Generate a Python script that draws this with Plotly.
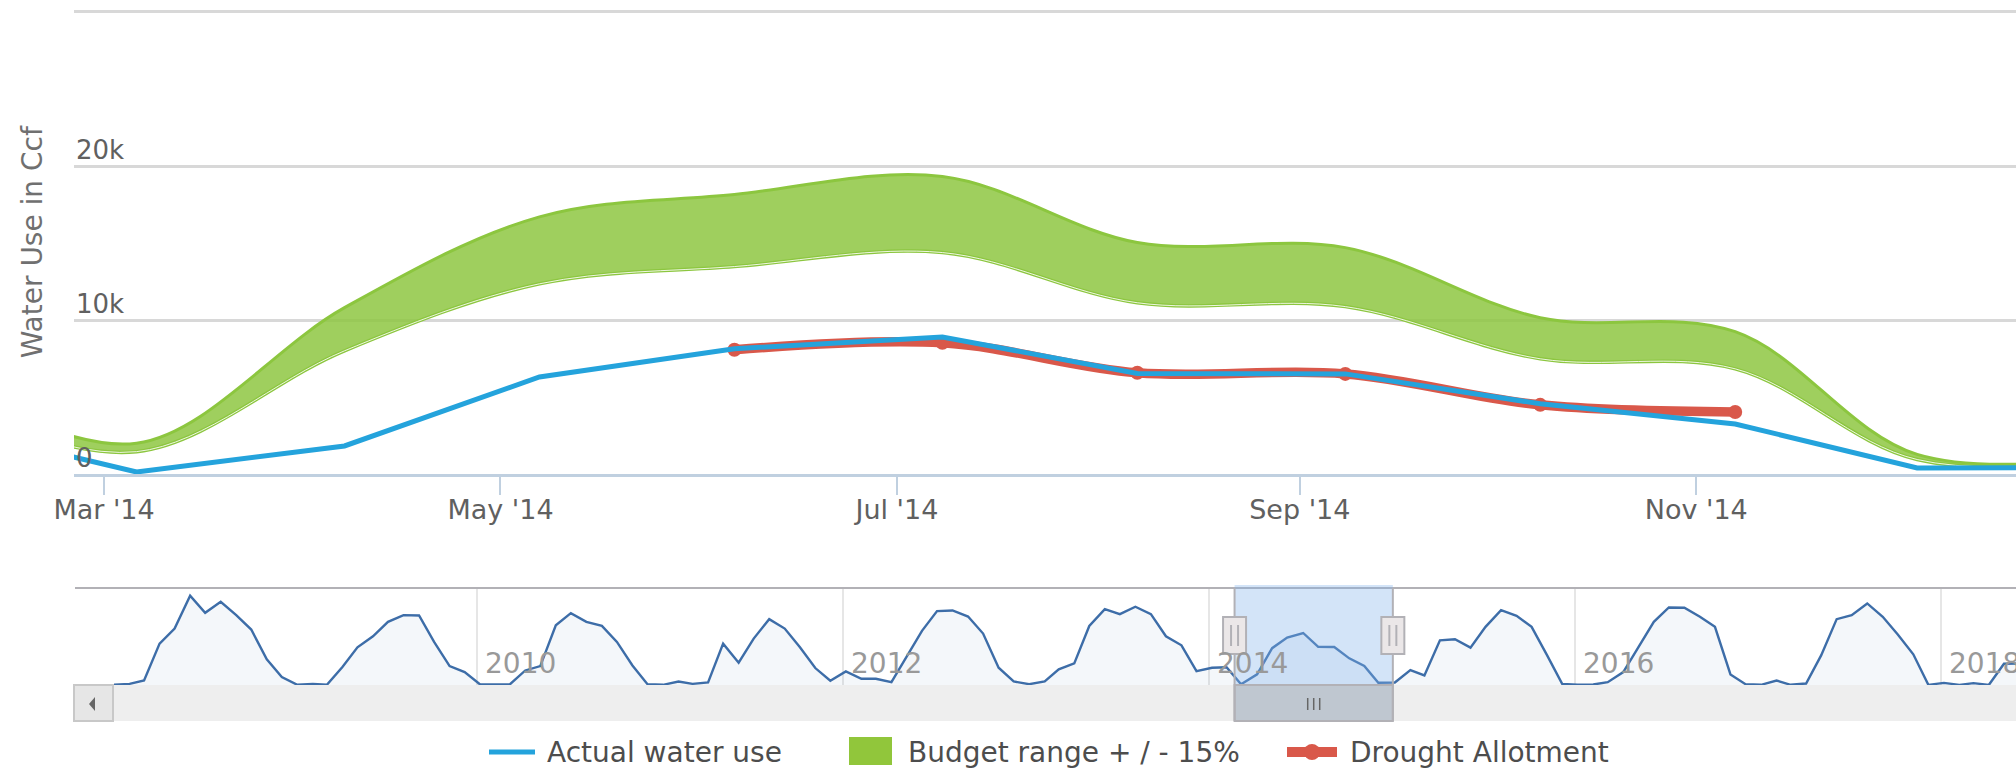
import pandas as pd
import plotly.graph_objects as go

W, H = 2016, 777
ML = 74  # left margin in px
FONT = "DejaVu Sans"

# ---------------- data (Ccf) ----------------
# Monthly meter reads, Jan 2008 .. Jun 2018
USE_2008 = [30, 200, 770, 7080, 9660, 15280, 12360, 14250, 11950, 9490, 4390, 1350]
USE_2009 = [30, 200, 30, 3070, 6450, 8340, 10810, 11950, 11900, 7370, 3240, 2210]
USE_2010 = [86, 86, 86, 2490, 3240, 10230, 12300, 10810, 10120, 7370, 3350, 143]
USE_2011 = [30, 600, 200, 430, 7080, 3810, 7940, 11270, 9660, 6510, 2900, 720]
USE_2012 = [2320, 1060, 1060, 490, 4790, 9260, 12640, 12760, 11720, 8800, 2950, 600]
USE_2013 = [143, 600, 2670, 3700, 10100, 12990, 12130, 13390, 12130, 8340, 6790, 2380]
USE_2014 = [2950, 3040, 130, 1820, 6300, 8130, 8900, 6530, 6500, 4560, 3250, 390]
USE_2015 = [420, 2550, 1630, 7650, 7830, 6390, 9950, 12810, 11840, 9950, 5070, 200]
USE_2016 = [30, 86, 490, 2210, 6450, 10810, 13270, 13210, 11670, 9950, 1810, 143]
USE_2017 = [30, 774, 30, 258, 5070, 11270, 11950, 13960, 11670, 8630, 5250, 30]
USE_2018 = [370, 30, 315, 30, 3640, 3700]
USE_BY_YEAR = {2008: USE_2008, 2009: USE_2009, 2010: USE_2010, 2011: USE_2011,
               2012: USE_2012, 2013: USE_2013, 2014: USE_2014, 2015: USE_2015,
               2016: USE_2016, 2017: USE_2017, 2018: USE_2018}
READ_DAY_2014 = [7, 5, 6, 7, 7, 6, 8, 7, 8, 8, 7, 5]
READ_DAY_OTHER = 7

BUDGET_DATES = ['2014-02-05', '2014-03-06', '2014-04-07', '2014-05-07', '2014-06-06',
                '2014-07-08', '2014-08-07', '2014-09-08', '2014-10-08', '2014-11-07',
                '2014-12-05', '2015-01-07']
BUDGET_HIGH = [6000, 2000, 10800, 16700, 18150, 19320, 15030, 14700, 10150, 9240, 1270, 1300]
BUDGET_LOW = [4450, 1450, 8000, 12350, 13470, 14380, 11120, 10870, 7480, 6830, 940, 960]

DROUGHT_DATES = ['2014-06-06', '2014-07-08', '2014-08-07', '2014-09-08', '2014-10-08', '2014-11-07']
DROUGHT_ALLOT = [8070, 8520, 6570, 6500, 4490, 4030]

NAME_ACTUAL = 'Actual water use'
NAME_BUDGET = 'Budget range + / - 15%'
NAME_DROUGHT = 'Drought Allotment'

MAIN_RANGE = ['2014-02-24 09:00', '2014-12-20 05:00']
MAIN_TICKS = ['2014-03-01', '2014-05-01', '2014-07-01', '2014-09-01', '2014-11-01']
NAV_RANGE = ['2008-01-07', '2018-05-31']
NAV_SELECT = ['2014-02-21', '2015-01-03']
NAV_YEARS = [2010, 2012, 2014, 2016, 2018]
Y_TICKS = [0, 10000, 20000, 30000]
Y_TICKTEXT = ['0', '10k', '20k', '']

use_dates, use_vals = [], []
for yr, vals in USE_BY_YEAR.items():
    for i, v in enumerate(vals):
        day = READ_DAY_2014[i] if yr == 2014 else READ_DAY_OTHER
        use_dates.append(f"{yr}-{i + 1:02d}-{day:02d}")
        use_vals.append(v)


def px_x(px):
    return (px - ML) / (W - ML)


def px_y(py):
    return 1 - py / H


BLUE = '#24a3dc'
RED = '#d9584a'
GREEN_LINE = '#8cc63f'
fig = go.Figure()
fig.add_trace(go.Scatter(x=BUDGET_DATES, y=BUDGET_LOW, mode='lines',
                         line=dict(color=GREEN_LINE, width=3.5, shape='spline', smoothing=1),
                         showlegend=False, hoverinfo='skip'))
fig.add_trace(go.Scatter(x=BUDGET_DATES, y=BUDGET_HIGH, mode='lines', fill='tonexty',
                         fillcolor='rgba(141,198,63,0.84)',
                         line=dict(color=GREEN_LINE, width=3, shape='spline', smoothing=1),
                         name=NAME_BUDGET, showlegend=False))
fig.add_trace(go.Scatter(x=BUDGET_DATES, y=BUDGET_LOW, mode='lines',
                         line=dict(color='rgba(255,255,255,0.85)', width=1, shape='spline', smoothing=1),
                         showlegend=False, hoverinfo='skip'))
fig.add_trace(go.Scatter(x=DROUGHT_DATES, y=DROUGHT_ALLOT, mode='lines+markers',
                         line=dict(color=RED, width=9.5, shape='spline', smoothing=1),
                         marker=dict(size=14, color=RED),
                         name=NAME_DROUGHT, showlegend=False))
fig.add_trace(go.Scatter(x=use_dates, y=use_vals, mode='lines',
                         line=dict(color=BLUE, width=5),
                         name=NAME_ACTUAL, showlegend=False))
# navigator series
fig.add_trace(go.Scatter(x=use_dates, y=use_vals, xaxis='x2', yaxis='y2', mode='lines',
                         fill='tozeroy', fillcolor='rgba(69,114,167,0.06)',
                         line=dict(color='#3d6da8', width=2.4),
                         showlegend=False, hoverinfo='skip'))

OUTLINE = '#b2b1b6'
shapes = []
# navigator top outline
shapes.append(dict(type='line', xref='paper', yref='paper', x0=px_x(75), x1=1,
                   y0=px_y(588), y1=px_y(588), line=dict(color=OUTLINE, width=2)))
# scrollbar track
shapes.append(dict(type='rect', xref='paper', yref='paper', x0=px_x(75), x1=1,
                   y0=px_y(721), y1=px_y(685), fillcolor='#eeeeee', line=dict(width=0)))
# left scroll button
shapes.append(dict(type='rect', xref='paper', yref='paper', x0=px_x(74), x1=px_x(113),
                   y0=px_y(721), y1=px_y(685), fillcolor='#e6e6e6',
                   line=dict(color='#c8c8c8', width=2)))
shapes.append(dict(type='path', xref='paper', yref='paper',
                   path=f"M {px_x(89)},{px_y(704)} L {px_x(95)},{px_y(697)} L {px_x(95)},{px_y(711)} Z",
                   fillcolor='#666666', line=dict(width=0)))
# selection mask
shapes.append(dict(type='rect', xref='x2', yref='paper', x0=NAV_SELECT[0], x1=NAV_SELECT[1],
                   y0=px_y(685), y1=px_y(585), fillcolor='rgba(128,179,236,0.35)',
                   line=dict(width=0), layer='above'))
# scrollbar thumb
shapes.append(dict(type='rect', xref='x2', yref='paper', x0=NAV_SELECT[0], x1=NAV_SELECT[1],
                   y0=px_y(721), y1=px_y(685), fillcolor='#bfc7d0',
                   line=dict(color=OUTLINE, width=2)))
sel_mid = (pd.Timestamp(NAV_SELECT[0]) + (pd.Timestamp(NAV_SELECT[1]) - pd.Timestamp(NAV_SELECT[0])) / 2)
for off in (-6, 0, 6):
    shapes.append(dict(type='line', xref='x2', yref='paper', xsizemode='pixel',
                       xanchor=sel_mid.strftime('%Y-%m-%d %H:%M'), x0=off, x1=off,
                       y0=px_y(710), y1=px_y(698), line=dict(color='#666666', width=1.5)))
# edges + handles
for edge in NAV_SELECT:
    shapes.append(dict(type='line', xref='x2', yref='paper', x0=edge, x1=edge,
                       y0=px_y(721), y1=px_y(588), line=dict(color=OUTLINE, width=2)))
    shapes.append(dict(type='rect', xref='x2', yref='paper', xsizemode='pixel', xanchor=edge,
                       x0=-11.5, x1=11.5, y0=px_y(654), y1=px_y(617),
                       fillcolor='#ebe7e8', line=dict(color=OUTLINE, width=2)))
    for off in (-3.5, 3.5):
        shapes.append(dict(type='line', xref='x2', yref='paper', xsizemode='pixel', xanchor=edge,
                           x0=off, x1=off, y0=px_y(646), y1=px_y(625),
                           line=dict(color=OUTLINE, width=2)))

# ---- legend (drawn) ----
LEG_Y = 752
shapes.append(dict(type='line', xref='paper', yref='paper', x0=px_x(489), x1=px_x(535),
                   y0=px_y(LEG_Y), y1=px_y(LEG_Y), line=dict(color=BLUE, width=5)))
shapes.append(dict(type='rect', xref='paper', yref='paper', x0=px_x(849), x1=px_x(892),
                   y0=px_y(765), y1=px_y(737), fillcolor='#91c63b', line=dict(width=0)))
shapes.append(dict(type='line', xref='paper', yref='paper', x0=px_x(1287), x1=px_x(1337),
                   y0=px_y(LEG_Y), y1=px_y(LEG_Y), line=dict(color=RED, width=10)))
shapes.append(dict(type='circle', xref='paper', yref='paper', x0=px_x(1304), x1=px_x(1320),
                   y0=px_y(LEG_Y + 8), y1=px_y(LEG_Y - 8), fillcolor=RED, line=dict(width=0)))

annotations = []
for name, left in ((NAME_ACTUAL, 545), (NAME_BUDGET, 906), (NAME_DROUGHT, 1348)):
    annotations.append(dict(x=px_x(left), xref='paper', y=px_y(LEG_Y), yref='paper',
                            text=name, showarrow=False, xanchor='left', yanchor='middle',
                            font=dict(family=FONT, size=28, color='#4d4d4d')))
# navigator year labels
for yr in NAV_YEARS:
    annotations.append(dict(x=f"{yr}-01-01", xref='x2', y=px_y(685), yref='paper',
                            text=str(yr), showarrow=False, xanchor='left', yanchor='bottom',
                            xshift=6, yshift=3, font=dict(family=FONT, size=28, color='#999999')))
# y-axis labels (inside, above grid lines)
for val, txt in zip(Y_TICKS, Y_TICKTEXT):
    if txt:
        annotations.append(dict(x=0, xref='paper', y=val, yref='y', text=txt,
                                showarrow=False, xanchor='left', yanchor='bottom',
                                xshift=0, yshift=-1,
                                font=dict(family=FONT, size=26, color='#606060')))

fig.update_layout(
    width=W, height=H,
    margin=dict(l=ML, r=0, t=0, b=0),
    paper_bgcolor='white', plot_bgcolor='white',
    font=dict(family=FONT),
    showlegend=False,
    xaxis=dict(domain=[0, 1], anchor='y', type='date', range=MAIN_RANGE,
               tickvals=MAIN_TICKS, tickformat="%b '%y", ticklabeloverflow='allow',
               ticks='outside', ticklen=18, tickwidth=2, tickcolor='#c0d0e0',
               ticklabelstandoff=-8,
               showline=True, linecolor='#c0d0e0', linewidth=2.5,
               showgrid=False, zeroline=False,
               tickfont=dict(family=FONT, size=27, color='#606060')),
    yaxis=dict(domain=[px_y(474), px_y(10.5)], anchor='x', range=[0, 30097],
               tickvals=Y_TICKS, showticklabels=False,
               ticks='', showgrid=True, gridcolor='#d8d8d8', gridwidth=2.5,
               zeroline=False, showline=False,
               title=dict(text='Water Use in Ccf', standoff=22,
                          font=dict(family=FONT, size=28, color='#707070'))),
    xaxis2=dict(domain=[px_x(114), 1], anchor='y2', type='date', range=NAV_RANGE,
                tickvals=[f"{yr}-01-01" for yr in NAV_YEARS], showticklabels=False,
                ticks='', showgrid=True, gridcolor='#e6e6e6', gridwidth=2,
                zeroline=False, showline=False),
    yaxis2=dict(domain=[px_y(685), px_y(588)], anchor='x2', range=[0, 16600],
                visible=False, showgrid=False, zeroline=False),
    shapes=shapes,
    annotations=annotations,
    hovermode=False,
)

fig.write_html("out.html", config={'displayModeBar': False},
               post_script="document.body.style.margin='0px';document.body.style.padding='0px';")
